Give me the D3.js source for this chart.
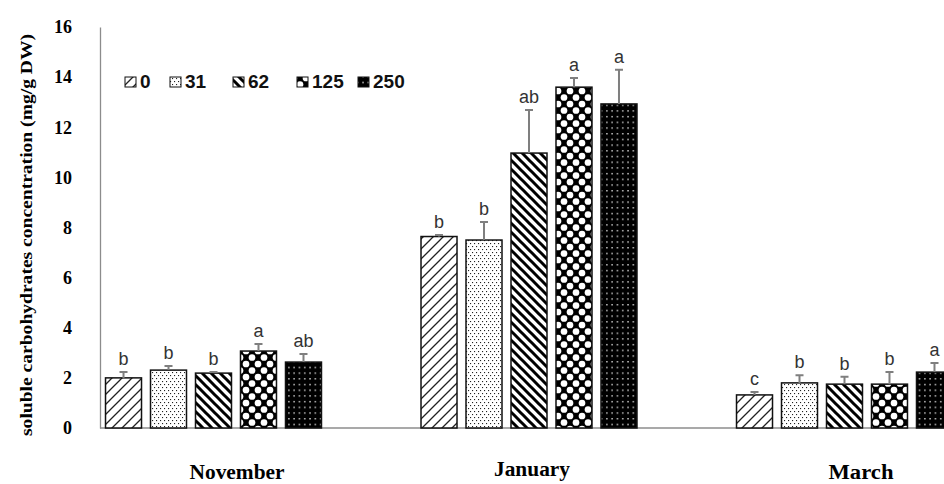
<!DOCTYPE html>
<html>
<head>
<meta charset="utf-8">
<script src="https://cdn.jsdelivr.net/npm/d3@7"></script>
<style>
  html, body { margin: 0; padding: 0; background: #fff; }
  svg { display: block; }
</style>
</head>
<body>
<svg id="chart" width="944" height="484"></svg>
<script>
// Sampling months and dose levels
const months = ["November", "January", "March"];
const doses = ["0", "31", "62", "125", "250"];

// Mean soluble carbohydrates (mg/g DW) per dose, one value per month
const nov = [2.0, 2.31, 2.19, 3.07, 2.63];
const jan = [7.64, 7.5, 10.97, 13.6, 12.93];
const mar = [1.32, 1.8, 1.75, 1.75, 2.23];

// Standard errors
const novErr = [0.23, 0.16, 0.04, 0.28, 0.32];
const janErr = [0.06, 0.72, 1.72, 0.37, 1.36];
const marErr = [0.12, 0.30, 0.29, 0.48, 0.36];

// Significance letters
const novLetters = ["b", "b", "b", "a", "ab"];
const janLetters = ["b", "b", "ab", "a", "a"];
const marLetters = ["c", "b", "b", "b", "a"];

const yTicks = [0, 2, 4, 6, 8, 10, 12, 14, 16];

const means = [nov, jan, mar];
const errs = [novErr, janErr, marErr];
const letters = [novLetters, janLetters, marLetters];

const svg = d3.select("#chart");
const defs = svg.append("defs");

// ---- fill patterns, one per dose ----
function pattern(id, w, h, bg) {
  const p = defs.append("pattern").attr("id", id)
    .attr("patternUnits", "userSpaceOnUse").attr("width", w).attr("height", h);
  p.append("rect").attr("width", w).attr("height", h).attr("fill", bg);
  return p;
}
// 0: light upward diagonal
pattern("p0", 10, 10, "#fff").append("path")
  .attr("d", "M0,10L10,0M-5,5L5,-5M5,15L15,5")
  .attr("stroke", "#222").attr("stroke-width", 1.3);
// 31: fine dots
{
  const p = pattern("p1", 4, 6, "#fff");
  p.append("rect").attr("x", 0).attr("y", 0).attr("width", 1.1).attr("height", 1.1).attr("fill", "#222");
  p.append("rect").attr("x", 2).attr("y", 3).attr("width", 1.1).attr("height", 1.1).attr("fill", "#222");
}
// 62: wide downward diagonal
pattern("p2", 9, 9, "#fff").append("path")
  .attr("d", "M0,0L9,9M-4.5,4.5L4.5,13.5M4.5,-4.5L13.5,4.5")
  .attr("stroke", "#000").attr("stroke-width", 3);
// 125: black diamonds around round white cells
{
  const p = pattern("p3", 12, 13, "#000");
  p.selectAll("circle").data([[6, 0], [6, 13], [0, 6.5], [12, 6.5]]).join("circle")
    .attr("cx", d => d[0]).attr("cy", d => d[1]).attr("r", 3.35).attr("fill", "#fff");
}
// 250: white dots on black
{
  const p = pattern("p4", 5.3, 5.7, "#000");
  p.append("rect").attr("x", 2).attr("y", 2).attr("width", 1.3).attr("height", 1.3).attr("fill", "#fff");
}
const fills = ["url(#p0)", "url(#p1)", "url(#p2)", "url(#p3)", "url(#p4)"];

// ---- scales ----
const y = d3.scaleLinear().domain([0, 16]).range([428, 27]);
const x0 = d3.scaleBand().domain(months).range([55.75, 1002.25]);
const x1 = d3.scaleBand().domain(doses).range([0, x0.bandwidth()])
  .paddingInner(0.2).paddingOuter(1.106);

// ---- y axis ----
const yAxis = svg.append("g").attr("transform", "translate(100,0)")
  .call(d3.axisLeft(y).tickValues(yTicks).tickSize(0).tickSizeOuter(0).tickPadding(28));
yAxis.select(".domain").attr("stroke", "#8c8c8c").attr("stroke-width", 1.3);
yAxis.selectAll(".tick text")
  .attr("font-family", "'Liberation Serif', 'Times New Roman', serif")
  .attr("font-weight", "bold").attr("font-size", 18).attr("fill", "#000");

// baseline
svg.append("line").attr("x1", 100).attr("x2", 944)
  .attr("y1", y(0)).attr("y2", y(0))
  .attr("stroke", "#8c8c8c").attr("stroke-width", 1.3);

// y title
svg.append("text")
  .attr("transform", `translate(32,${(33 + 437) / 2}) rotate(-90)`)
  .attr("text-anchor", "middle")
  .attr("font-family", "'Liberation Serif', 'Times New Roman', serif")
  .attr("font-weight", "bold").attr("font-size", 16)
  .attr("textLength", 402).attr("lengthAdjust", "spacingAndGlyphs")
  .text("soluble carbohydrates concentration  (mg/g DW)");

// ---- bars ----
const rows = [];
months.forEach((m, i) => doses.forEach((d, j) => rows.push({
  month: m, dose: d, j, v: means[i][j], e: errs[i][j], l: letters[i][j]
})));

const g = svg.append("g");
const cx = r => x0(r.month) + x1(r.dose) + x1.bandwidth() / 2;

g.selectAll("rect.bar").data(rows).join("rect").attr("class", "bar")
  .attr("x", r => x0(r.month) + x1(r.dose))
  .attr("y", r => y(r.v))
  .attr("width", x1.bandwidth())
  .attr("height", r => y(0) - y(r.v))
  .attr("fill", r => fills[r.j])
  .attr("stroke", "#111").attr("stroke-width", 1.5);

// error bars (upper half)
g.selectAll("path.err").data(rows).join("path").attr("class", "err")
  .attr("d", r => `M${cx(r)},${y(r.v)}V${y(r.v + r.e)}M${cx(r) - 4},${y(r.v + r.e)}H${cx(r) + 4}`)
  .attr("stroke", "#7f7f7f").attr("stroke-width", 2).attr("fill", "none");

// significance letters
g.selectAll("text.sig").data(rows).join("text").attr("class", "sig")
  .attr("x", cx)
  .attr("y", r => y(r.v + r.e) - 7)
  .attr("text-anchor", "middle")
  .attr("font-family", "'Liberation Sans', Arial, sans-serif")
  .attr("font-size", 18).attr("fill", "#333")
  .text(r => r.l);

// ---- month labels ----
const monthLabel = [
  { m: "November", x: 237, y: 479, w: 95 },
  { m: "January", x: 532, y: 476, w: 76 },
  { m: "March", x: 861, y: 479, w: 65 }
];
svg.selectAll("text.month").data(monthLabel).join("text").attr("class", "month")
  .attr("x", d => d.x).attr("y", d => d.y)
  .attr("text-anchor", "middle")
  .attr("font-family", "'Liberation Serif', 'Times New Roman', serif")
  .attr("font-weight", "bold").attr("font-size", 20)
  .attr("textLength", d => d.w).attr("lengthAdjust", "spacingAndGlyphs")
  .text(d => d.m);

// ---- legend ----
const legendX = [125, 170, 233, 297, 358];
const lg = svg.append("g");
doses.forEach((d, j) => {
  lg.append("rect").attr("x", legendX[j]).attr("y", 77)
    .attr("width", 11).attr("height", 10)
    .attr("fill", fills[j]).attr("stroke", "#111").attr("stroke-width", 1);
  lg.append("text").attr("x", legendX[j] + 15).attr("y", 88)
    .attr("font-family", "'Liberation Sans', Arial, sans-serif")
    .attr("font-weight", "bold").attr("font-size", 19).attr("fill", "#111")
    .text(d);
});
</script>
</body>
</html>
